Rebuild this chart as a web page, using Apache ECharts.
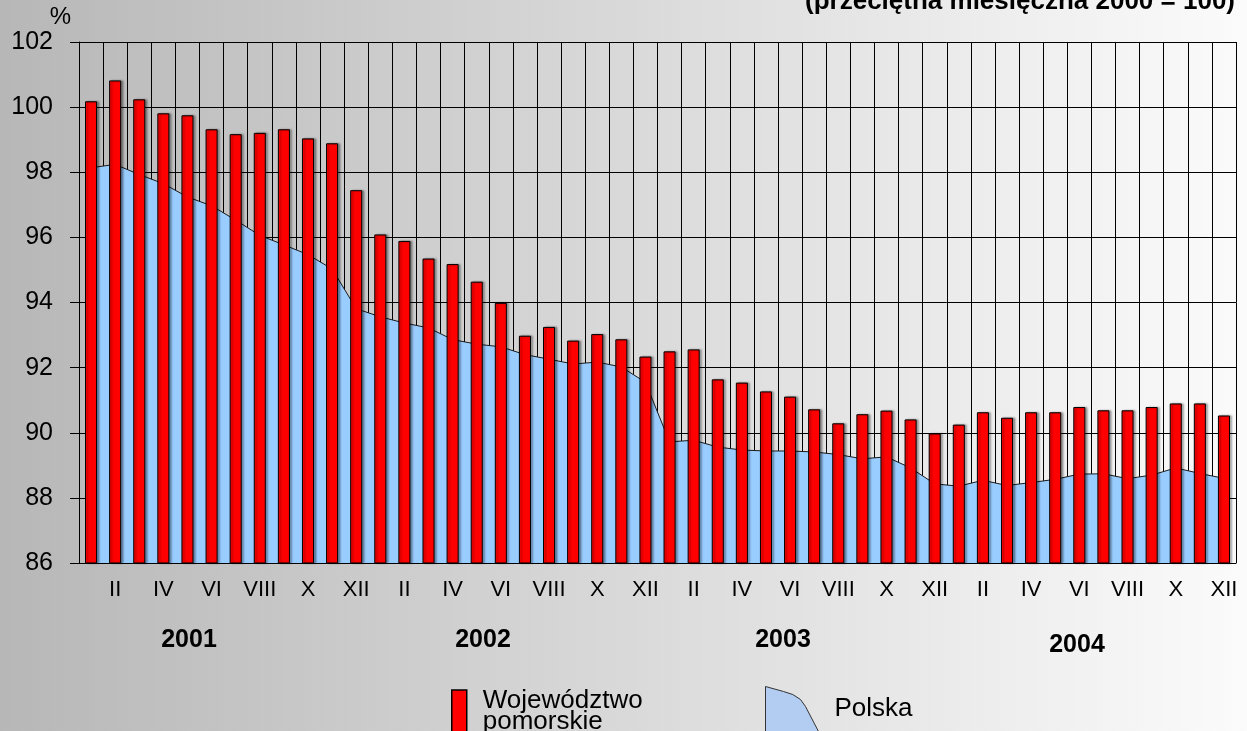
<!DOCTYPE html>
<html>
<head>
<meta charset="utf-8">
<script src="https://cdn.jsdelivr.net/npm/echarts@6/dist/echarts.min.js"></script>
<style>
  html, body { margin: 0; padding: 0; }
  #chart { width: 1247px; height: 731px; }
</style>
</head>
<body>
<div id="chart"></div>
<script>
const months = ['I', 'II', 'III', 'IV', 'V', 'VI', 'VII', 'VIII', 'IX', 'X', 'XI', 'XII'];
const years = ['2001', '2002', '2003', '2004'];

// Województwo pomorskie (bars)
const pomorskie = [
  100.18, 100.82, 100.24, 99.81, 99.75, 99.32, 99.17, 99.21, 99.32, 99.04, 98.89, 97.45,
  96.09, 95.89, 95.35, 95.18, 94.64, 93.99, 92.98, 93.25, 92.83, 93.03, 92.87, 92.34,
  92.50, 92.56, 91.64, 91.54, 91.27, 91.11, 90.72, 90.29, 90.57, 90.68, 90.41, 89.98,
  90.25, 90.63, 90.46, 90.63, 90.63, 90.79, 90.69, 90.69, 90.79, 90.90, 90.90, 90.53
];

// Polska (area)
const polska = [
  98.14, 98.24, 97.93, 97.65, 97.24, 96.97, 96.53, 96.06, 95.77, 95.47, 95.03, 93.81,
  93.56, 93.37, 93.22, 92.86, 92.72, 92.64, 92.40, 92.26, 92.11, 92.17, 92.02, 91.55,
  89.72, 89.77, 89.56, 89.47, 89.44, 89.44, 89.41, 89.33, 89.20, 89.26, 88.92, 88.43,
  88.36, 88.54, 88.38, 88.47, 88.57, 88.73, 88.74, 88.59, 88.70, 88.92, 88.75, 88.60
];

const categories = [];
years.forEach(y => months.forEach(m => categories.push(y + '-' + m)));

// year captions under the axis (layout only)
const yearLabelPos = [[189, 640], [483, 640], [783, 640], [1077, 645]];

const font = "'Liberation Sans', Arial, sans-serif";
const polskaIcon = 'path://M0,0 L18,5 Q28,7 35,13 L40,20 L53,45 L0,45 Z';

const chart = echarts.init(document.getElementById('chart'));

const option = {
  animation: false,
  backgroundColor: {
    type: 'linear', x: 0, y: 0, x2: 1, y2: 0,
    colorStops: [
      { offset: 0, color: '#B7B7B7' },
      { offset: 1, color: '#FBFBFB' }
    ]
  },
  textStyle: { fontFamily: font },
  title: {
    text: '(przeciętna miesięczna 2000 = 100)',
    right: 7,
    top: -16,
    textStyle: { fontSize: 26, fontWeight: 'bold', color: '#000', fontFamily: font }
  },
  legend: [
    {
      data: ['Województwo pomorskie'],
      left: 451,
      top: 688,
      padding: 0,
      icon: 'rect',
      itemWidth: 15,
      itemHeight: 43,
      selectedMode: false,
      formatter: name => name.replace(' ', '\n'),
      itemStyle: { color: '#FF0000', borderColor: '#000', borderWidth: 1.5 },
      textStyle: { fontSize: 26, lineHeight: 21, color: '#000', fontFamily: font, padding: [0, 0, 0, 11] }
    },
    {
      data: ['Polska'],
      left: 765,
      top: 686,
      padding: 0,
      icon: polskaIcon,
      itemWidth: 53,
      itemHeight: 45,
      selectedMode: false,
      itemStyle: { color: '#B2CDF1', borderColor: '#333', borderWidth: 1 },
      textStyle: { fontSize: 26, color: '#000', fontFamily: font, padding: [10, 0, 0, 11] }
    }
  ],
  grid: {
    left: 79,
    right: 11,
    top: 42,
    bottom: 168
  },
  xAxis: {
    type: 'category',
    data: categories,
    axisLine: { lineStyle: { color: '#000', width: 1 } },
    axisTick: { interval: 0, length: 7, lineStyle: { color: '#000' } },
    axisLabel: {
      interval: (i) => i % 2 === 1,
      formatter: v => v.split('-')[1],
      fontSize: 22,
      color: '#000',
      margin: 16,
      fontFamily: font
    },
    splitLine: { show: true, interval: 0, lineStyle: { color: '#000', width: 1 } }
  },
  yAxis: {
    type: 'value',
    min: 86,
    max: 102,
    interval: 2,
    name: '%',
    nameLocation: 'end',
    nameGap: 8,
    nameTextStyle: { fontSize: 24, color: '#000', align: 'right', padding: [0, 8, 0, 0], fontFamily: font },
    axisLine: { show: true, lineStyle: { color: '#000', width: 1 } },
    axisTick: { show: true, length: 9, lineStyle: { color: '#000' } },
    axisLabel: { fontSize: 25, color: '#000', margin: 26, fontFamily: font },
    splitLine: { show: true, lineStyle: { color: '#000', width: 1 } }
  },
  series: [
    {
      name: 'Polska',
      type: 'line',
      z: 1,
      data: polska,
      symbol: 'none',
      lineStyle: { color: '#1A1A1A', width: 1 },
      itemStyle: { color: '#99CCFF' },
      areaStyle: { color: '#99CCFF', opacity: 1 }
    },
    {
      name: 'Województwo pomorskie',
      type: 'bar',
      z: 2,
      data: pomorskie,
      barWidth: '50%',
      itemStyle: {
        color: '#FF0000',
        borderColor: '#000',
        borderWidth: 1,
        shadowColor: 'rgba(0,0,0,0.35)',
        shadowBlur: 2,
        shadowOffsetX: 2
      }
    }
  ],
  graphic: years.map((y, i) => ({
    type: 'text',
    x: yearLabelPos[i][0],
    y: yearLabelPos[i][1],
    style: {
      text: y,
      fontSize: 25,
      fontWeight: 'bold',
      fill: '#000',
      fontFamily: font,
      align: 'center',
      verticalAlign: 'middle'
    }
  }))
};

chart.setOption(option);
</script>
</body>
</html>
